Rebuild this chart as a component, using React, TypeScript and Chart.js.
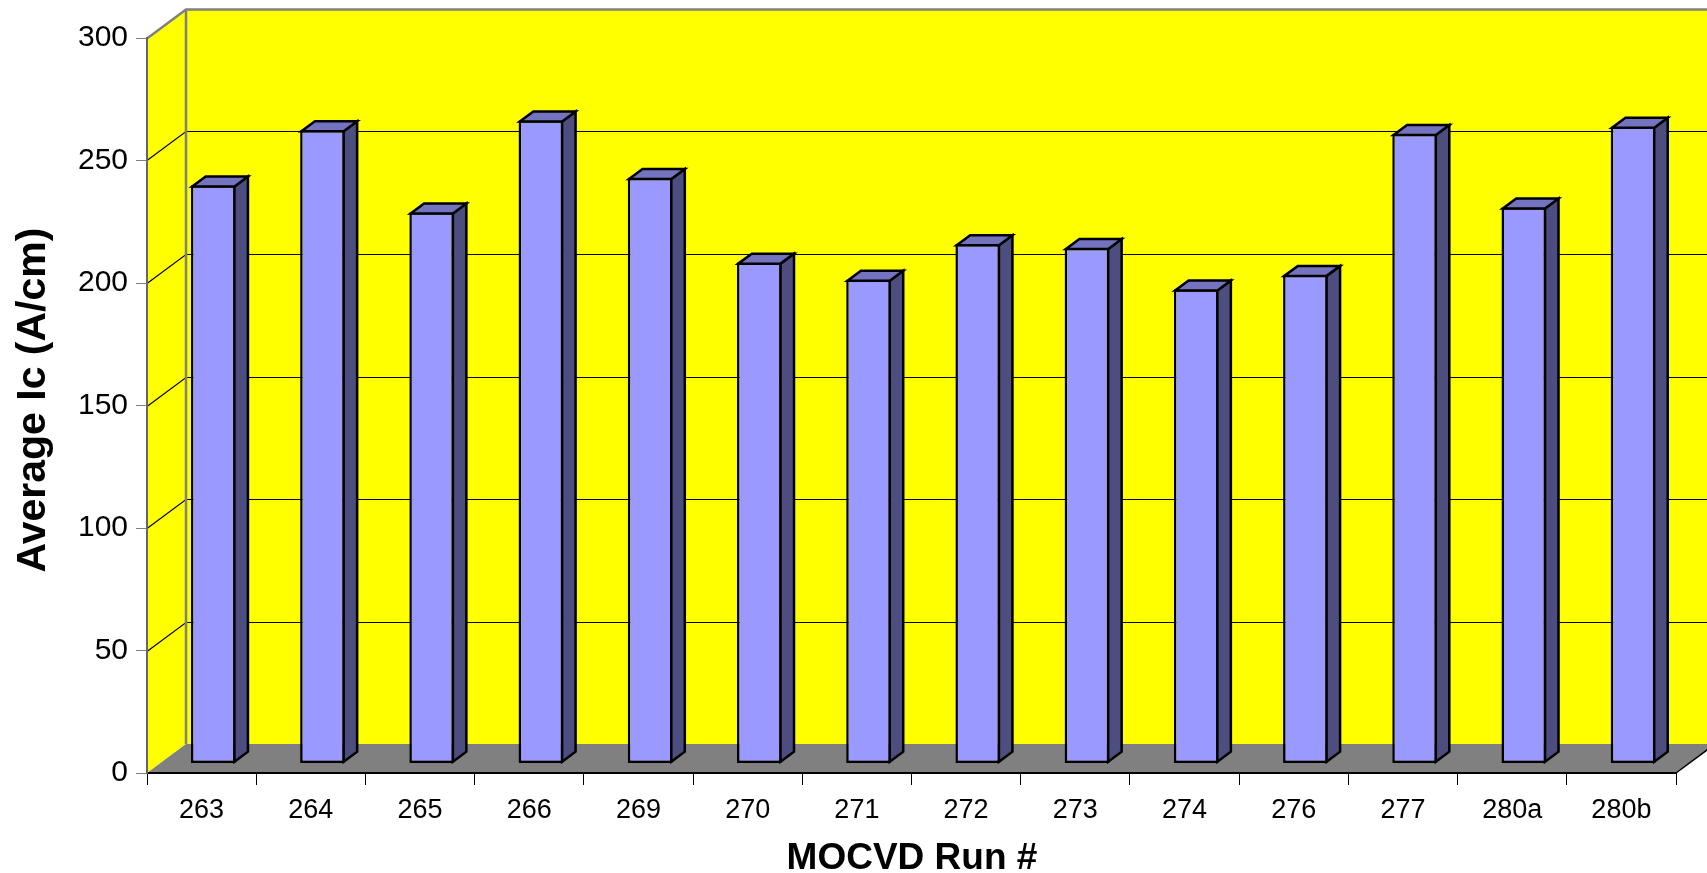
import React, { useEffect, useRef } from "react";
import { Chart, registerables } from "chart.js";

Chart.register(...registerables);

const categories: string[] = ["263", "264", "265", "266", "269", "270", "271", "272", "273", "274", "276", "277", "280a", "280b"];
const averageIc: number[] = [236, 258.5, 225, 262.5, 239, 204.5, 197.5, 212, 210.5, 193.5, 199.5, 257, 227, 260];
const yTickMin = 0;
const yTickMax = 300;
const yTickStep = 50;
const xTitle = "MOCVD Run #";
const yTitle = "Average Ic (A/cm)";

const FONT = '"Liberation Sans", Arial, Helvetica, sans-serif';
const WALL_DX = 39;
const WALL_DY = 29;
const BAR_SHIFT_X = 11.7;
const BAR_SHIFT_Y = 9.6;
const BAR_DEPTH_X = 13.5;
const BAR_DEPTH_Y = 10;

const threeD = {
  id: "threeD",
  beforeDraw(chart: any) {
    const { ctx, chartArea, scales } = chart;
    const { left, right, top, bottom } = chartArea;
    const y = scales.y;
    ctx.save();
    ctx.fillStyle = "#FFFF00";
    ctx.fillRect(left + WALL_DX, top - WALL_DY, right - left + 10, bottom - top);
    ctx.beginPath();
    ctx.moveTo(left, top);
    ctx.lineTo(left + WALL_DX, top - WALL_DY);
    ctx.lineTo(left + WALL_DX, bottom - WALL_DY);
    ctx.lineTo(left, bottom);
    ctx.closePath();
    ctx.fill();
    ctx.fillStyle = "#808080";
    ctx.beginPath();
    ctx.moveTo(left, bottom);
    ctx.lineTo(left + WALL_DX, bottom - WALL_DY);
    ctx.lineTo(right + WALL_DX, bottom - WALL_DY);
    ctx.lineTo(right, bottom);
    ctx.closePath();
    ctx.fill();
    for (let v = yTickMin + yTickStep; v <= yTickMax; v += yTickStep) {
      const py = Math.round(y.getPixelForValue(v)) + 0.5;
      const isTop = v === yTickMax;
      ctx.strokeStyle = isTop ? "#808080" : "#000000";
      ctx.lineWidth = isTop ? 2.5 : 1.2;
      ctx.beginPath();
      ctx.moveTo(left, py);
      ctx.lineTo(left + WALL_DX, py - WALL_DY);
      ctx.lineTo(right + WALL_DX + 10, py - WALL_DY);
      ctx.stroke();
    }
    ctx.strokeStyle = "#808080";
    ctx.lineWidth = 2.5;
    ctx.beginPath();
    ctx.moveTo(left + WALL_DX, top - WALL_DY);
    ctx.lineTo(left + WALL_DX, bottom - WALL_DY);
    ctx.stroke();
    ctx.strokeStyle = "#000000";
    ctx.lineWidth = 1.5;
    ctx.beginPath();
    ctx.moveTo(right, bottom);
    ctx.lineTo(right + WALL_DX, bottom - WALL_DY);
    ctx.stroke();
    ctx.restore();
  },
  beforeDatasetsDraw(chart: any) {
    chart.ctx.save();
    chart.ctx.translate(BAR_SHIFT_X, -BAR_SHIFT_Y);
  },
  afterDatasetsDraw(chart: any) {
    const { ctx } = chart;
    const meta = chart.getDatasetMeta(0);
    ctx.lineWidth = 2.5;
    ctx.strokeStyle = "#000000";
    ctx.lineJoin = "miter";
    meta.data.forEach((bar: any) => {
      const { x, y, base, width } = bar.getProps(["x", "y", "base", "width"], true);
      const L = x - width / 2 + 1.25;
      const R = x + width / 2 - 1.25;
      const T = y + 1.25;
      const B = base - 1.25;
      ctx.fillStyle = "#4D4D80";
      ctx.beginPath();
      ctx.moveTo(R, T);
      ctx.lineTo(R + BAR_DEPTH_X, T - BAR_DEPTH_Y);
      ctx.lineTo(R + BAR_DEPTH_X, B - BAR_DEPTH_Y);
      ctx.lineTo(R, B);
      ctx.closePath();
      ctx.fill();
      ctx.stroke();
      ctx.fillStyle = "#7373BF";
      ctx.beginPath();
      ctx.moveTo(L, T);
      ctx.lineTo(L + BAR_DEPTH_X, T - BAR_DEPTH_Y);
      ctx.lineTo(R + BAR_DEPTH_X, T - BAR_DEPTH_Y);
      ctx.lineTo(R, T);
      ctx.closePath();
      ctx.fill();
      ctx.stroke();
    });
    ctx.restore();
  },
  afterDraw(chart: any) {
    const { ctx } = chart;
    ctx.save();
    ctx.fillStyle = "#000000";
    ctx.font = `bold 37px ${FONT}`;
    ctx.textAlign = "center";
    ctx.textBaseline = "alphabetic";
    ctx.fillText(xTitle, 912, 869);
    ctx.translate(45, 400);
    ctx.rotate(-Math.PI / 2);
    ctx.font = `bold 41px ${FONT}`;
    ctx.fillText(yTitle, 0, 0);
    ctx.restore();
  },
};

export default function App() {
  const ref = useRef<HTMLCanvasElement | null>(null);
  useEffect(() => {
    if (!ref.current) return;
    const chart = new Chart(ref.current, {
      type: "bar",
      data: {
        labels: categories,
        datasets: [
          {
            label: "Average Ic",
            data: averageIc,
            backgroundColor: "#9999FF",
            borderColor: "#000000",
            borderWidth: 2.5,
            borderSkipped: false,
            barPercentage: 0.41,
            categoryPercentage: 1,
          },
        ],
      },
      options: {
        animation: false,
        responsive: false,
        layout: { padding: { top: 38, right: 31, left: 0, bottom: 0 } },
        plugins: { legend: { display: false }, tooltip: { enabled: false } },
        scales: {
          x: {
            type: "category",
            offset: true,
            grid: { display: true, drawOnChartArea: false, drawTicks: true, tickLength: 12, color: "#000000", lineWidth: 1, offset: true },
            border: { display: true, color: "#000000", width: 2 },
            ticks: { font: { family: FONT, size: 27 }, color: "#000000", padding: 9, maxRotation: 0, autoSkip: false },
            afterFit(s: any) {
              s.height = 100;
            },
          },
          y: {
            min: yTickMin,
            max: yTickMax,
            ticks: { stepSize: yTickStep, font: { family: FONT, size: 30 }, color: "#000000", padding: 8 },
            grid: { drawOnChartArea: false, drawTicks: true, tickLength: 11, color: "#808080" },
            border: { display: true, color: "#666666", width: 2 },
            afterFit(s: any) {
              s.width = 147;
            },
          },
        },
      },
      plugins: [threeD],
    } as any);
    return () => chart.destroy();
  }, []);
  return (
    <div style={{ position: "fixed", left: 0, top: 0, width: 1707, height: 873, background: "#ffffff" }}>
      <canvas ref={ref} width={1707} height={873} style={{ display: "block" }} />
    </div>
  );
}
